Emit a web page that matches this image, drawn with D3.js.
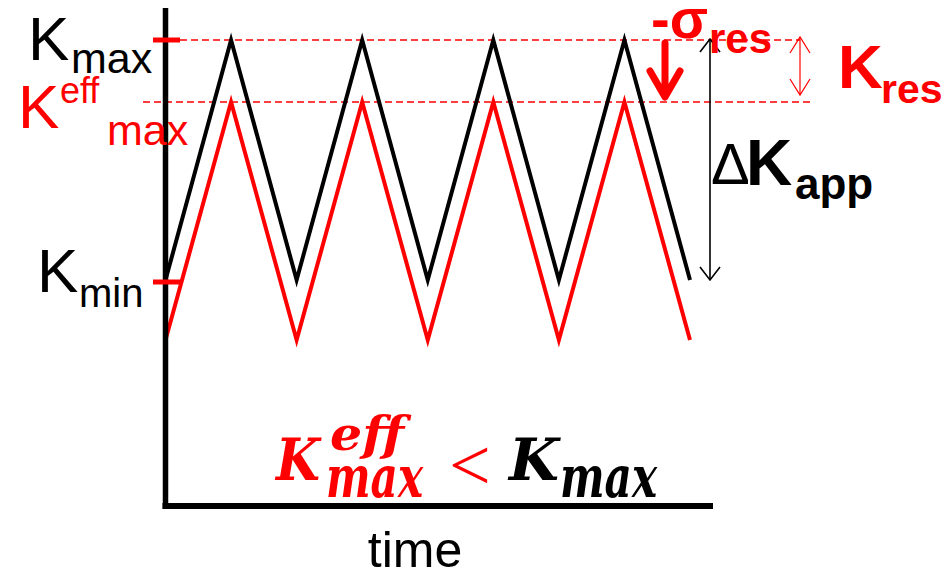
<!DOCTYPE html>
<html>
<head>
<meta charset="utf-8">
<script src="https://cdn.jsdelivr.net/npm/d3@7"></script>
<style>
  body { margin: 0; background: #fff; }
  svg { display: block; font-family: "Liberation Sans", Arial, sans-serif; }
</style>
</head>
<body>
<div id="chart"></div>
<script>
// half-cycle steps along time axis
const times = [0, 1, 2, 3, 4, 5, 6, 7, 8];
// applied K (black) and effective K (red), arbitrary units
const kApplied = [45.2, 93.2, 45.2, 93.2, 45.2, 93.2, 45.2, 93.2, 45.2];
const kEffective = [33.2, 80.8, 33.2, 80.8, 33.2, 80.8, 33.2, 80.8, 33.2];
const kMax = 93.2, kMin = 45.2, kEffMax = 80.8;

const width = 947, height = 572;

const svg = d3.select("#chart").append("svg")
  .attr("width", width)
  .attr("height", height);

const x = d3.scaleLinear().domain([0, 8]).range([165.5, 690]);
const y = d3.scaleLinear().domain([0, 100]).range([506, 6]);

// dashed reference levels
svg.append("line")
  .attr("x1", 180).attr("x2", 800)
  .attr("y1", y(kMax)).attr("y2", y(kMax))
  .attr("stroke", "red").attr("stroke-width", 1.5)
  .attr("stroke-dasharray", "7,4");
svg.append("line")
  .attr("x1", 143).attr("x2", 813)
  .attr("y1", y(kEffMax)).attr("y2", y(kEffMax))
  .attr("stroke", "red").attr("stroke-width", 1.5)
  .attr("stroke-dasharray", "7,4");

const line = d3.line()
  .x((d, i) => x(times[i]))
  .y(d => y(d));

svg.append("path")
  .datum(kApplied)
  .attr("fill", "none").attr("stroke", "black").attr("stroke-width", 4)
  .attr("d", line);
svg.append("path")
  .datum(kEffective)
  .attr("fill", "none").attr("stroke", "red").attr("stroke-width", 4)
  .attr("d", line);

// axes (no ticks, just frame)
svg.append("line")
  .attr("x1", x(0)).attr("x2", x(0))
  .attr("y1", 8).attr("y2", 509)
  .attr("stroke", "black").attr("stroke-width", 5.5);
svg.append("line")
  .attr("x1", 162.5).attr("x2", 713)
  .attr("y1", y(0)).attr("y2", y(0))
  .attr("stroke", "black").attr("stroke-width", 6);

// red ticks at Kmax / Kmin
[kMax, kMin].forEach(v => {
  svg.append("line")
    .attr("x1", 153).attr("x2", 180)
    .attr("y1", y(v) + (v === kMin ? 2 : 0)).attr("y2", y(v) + (v === kMin ? 2 : 0))
    .attr("stroke", "red").attr("stroke-width", 5);
});

// axis labels
function label(tx, ty, main, sup, sub, color, opts) {
  const g = svg.append("g").attr("fill", color);
  g.append("text").attr("x", tx).attr("y", ty)
    .attr("font-size", opts.size).attr("font-weight", opts.weight || "normal")
    .text(main);
  if (sup) g.append("text").attr("x", opts.supX).attr("y", opts.supY)
    .attr("font-size", opts.supSize).attr("font-weight", opts.weight || "normal")
    .text(sup);
  if (sub) g.append("text").attr("x", opts.subX).attr("y", opts.subY)
    .attr("font-size", opts.subSize).attr("font-weight", opts.weight || "normal")
    .text(sub);
}

label(28, 60, "K", null, "max", "black", { size: 62, subX: 71, subY: 73, subSize: 43 });
label(18, 128, "K", "eff", "max", "red",
  { size: 62, supX: 60, supY: 103, supSize: 36, subX: 107, subY: 145, subSize: 43 });
label(37, 292, "K", null, "min", "black", { size: 62, subX: 79, subY: 307, subSize: 40 });

// black double arrow: delta K applied
function openArrow(ax, y1, y2, hw, hl, color, sw) {
  svg.append("line").attr("x1", ax).attr("x2", ax).attr("y1", y1).attr("y2", y2)
    .attr("stroke", color).attr("stroke-width", sw);
  svg.append("path")
    .attr("d", `M${ax - hw},${y1 + hl}L${ax},${y1}L${ax + hw},${y1 + hl}` +
      `M${ax - hw},${y2 - hl}L${ax},${y2}L${ax + hw},${y2 - hl}`)
    .attr("fill", "none").attr("stroke", color).attr("stroke-width", sw);
}
openArrow(710, y(kMax) - 1, y(kMin), 10, 13, "black", 1.6);
openArrow(800, 37, 95, 10, 16, "red", 1.2);

// thick red down arrow
svg.append("path")
  .attr("d", "M665,43L665,96M650,71L665,97L680,71")
  .attr("fill", "none").attr("stroke", "red").attr("stroke-width", 7)
  .attr("stroke-linecap", "round").attr("stroke-linejoin", "round");

// -sigma res
svg.append("text").attr("x", 651).attr("y", 38)
  .attr("font-size", 56).attr("font-weight", "bold").attr("fill", "red")
  .text("-σ");
svg.append("text").attr("x", 709).attr("y", 53)
  .attr("font-size", 42).attr("font-weight", "bold").attr("fill", "red")
  .text("res");

// K res
label(838, 88, "K", null, "res", "red",
  { size: 62, weight: "bold", subX: 881, subY: 103, subSize: 41 });

// Delta K app
svg.append("text").attr("x", 711).attr("y", 184)
  .attr("font-size", 58).attr("fill", "black").text("Δ");
label(746, 185, "K", null, "app", "black",
  { size: 64, weight: "bold", subX: 795, subY: 199, subSize: 44 });

// bottom inequality
const serif = "'DejaVu Serif', 'Liberation Serif', serif";
function mathText(tx, ty, size, color, str, len) {
  const t = svg.append("text").attr("x", tx).attr("y", ty)
    .style("font-family", serif)
    .attr("font-weight", "bold").attr("font-style", "italic")
    .attr("font-size", size).attr("fill", color).text(str);
  if (len) t.attr("textLength", len).attr("lengthAdjust", "spacingAndGlyphs");
}
mathText(276, 480, 57, "red", "K", 44);
mathText(330, 450, 46, "red", "eff", 74);
mathText(326, 497, 58, "red", "max", 97);
svg.append("text").attr("x", 449).attr("y", 490)
  .style("font-family", "'Liberation Serif', serif")
  .attr("font-size", 74).attr("fill", "red").text("<");
mathText(509, 480, 57, "black", "K", 50);
mathText(560, 497, 58, "black", "max", 97);

// x label
svg.append("text").attr("x", 415).attr("y", 567)
  .attr("text-anchor", "middle").attr("font-size", 50)
  .text("time");
</script>
</body>
</html>
